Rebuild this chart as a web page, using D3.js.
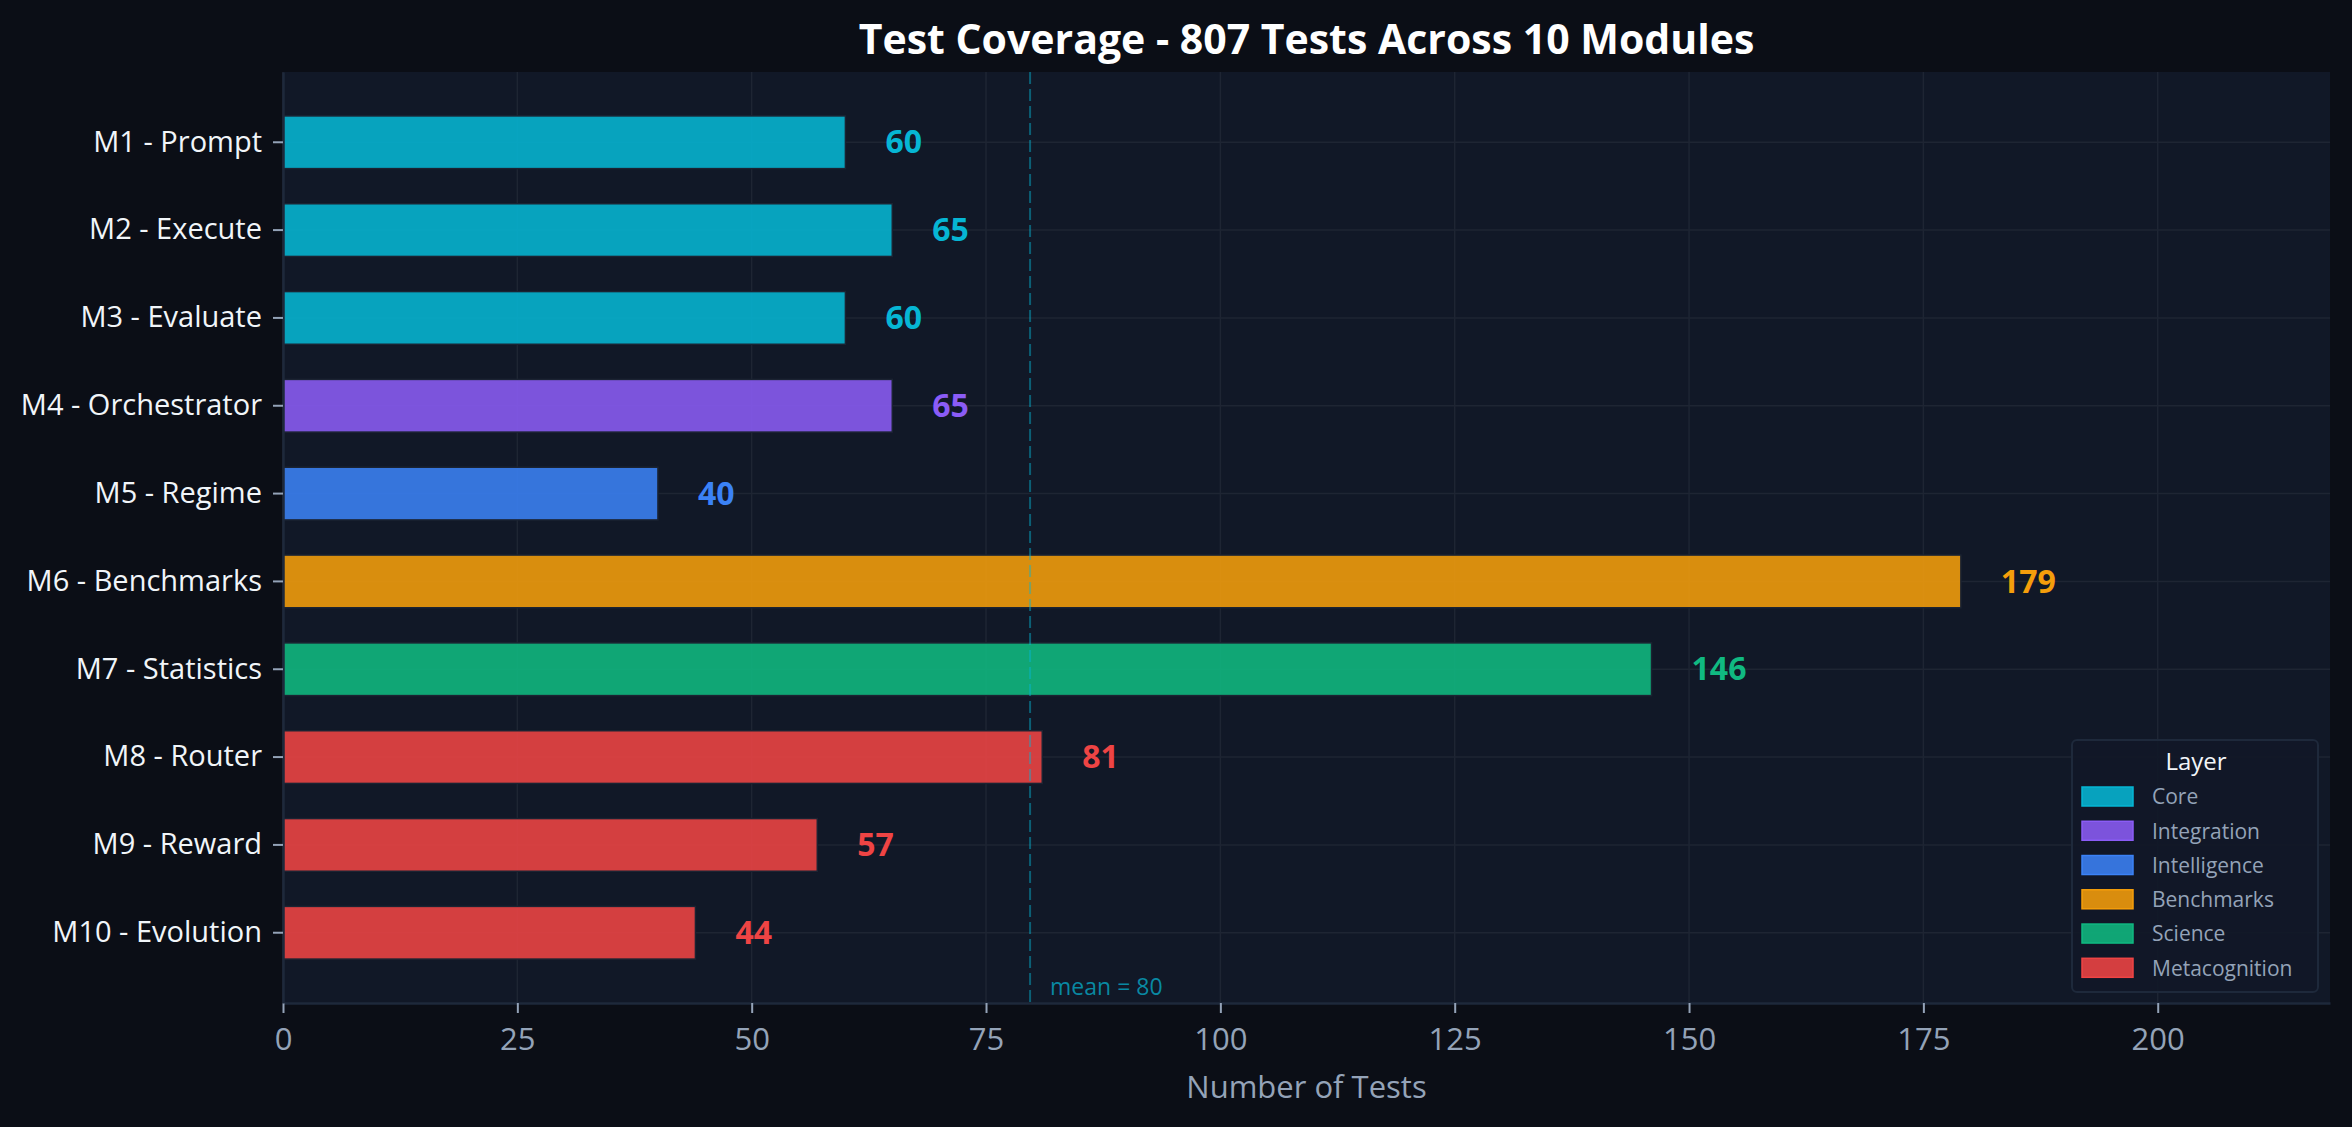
<!DOCTYPE html>
<html lang="en">
<head>
    <meta charset="UTF-8">
    <title>Test Coverage</title>
    <script src="https://d3js.org/d3.v7.min.js"></script>
    <style>
        body { margin: 0; background: #0b0e16; }
        svg text { font-family: "Open Sans", "Noto Sans", sans-serif; }
    </style>
</head>
<body>
<svg id="chart" width="2352" height="1127"></svg>
<script>
    // data
    const modules = ["M1 - Prompt", "M2 - Execute", "M3 - Evaluate", "M4 - Orchestrator", "M5 - Regime",
        "M6 - Benchmarks", "M7 - Statistics", "M8 - Router", "M9 - Reward", "M10 - Evolution"];
    const tests = [60, 65, 60, 65, 40, 179, 146, 81, 57, 44];
    const layers = ["Core", "Core", "Core", "Integration", "Intelligence",
        "Benchmarks", "Science", "Metacognition", "Metacognition", "Metacognition"];
    const layerNames = ["Core", "Integration", "Intelligence", "Benchmarks", "Science", "Metacognition"];
    const xTicks = [0, 25, 50, 75, 100, 125, 150, 175, 200];

    const layerColor = {
        Core: "#06b6d4", Integration: "#8b5cf6", Intelligence: "#3b82f6",
        Benchmarks: "#f59e0b", Science: "#10b981", Metacognition: "#ef4444"
    };

    const x0 = 283, x1 = 2330, y0 = 72, y1 = 1003;
    const svg = d3.select("#chart");

    svg.append("rect").attr("width", 2352).attr("height", 1127).attr("fill", "#0b0e16");
    svg.append("rect").attr("x", x0).attr("y", y0).attr("width", x1 - x0).attr("height", y1 - y0)
        .attr("fill", "#111827");

    let x = d3.scaleLinear()
        .domain([0, d3.max(tests) * 1.22])
        .range([x0, x1]);

    let y = d3.scaleBand()
        .domain(modules)
        .range([y0, y1])
        .paddingInner(0.4)
        .paddingOuter(0.5);

    // grid
    svg.append("g").selectAll("line")
        .data(xTicks)
        .enter().append("line")
        .attr("x1", d => x(d)).attr("x2", d => x(d))
        .attr("y1", y0).attr("y2", y1)
        .attr("stroke", "#1e2533").attr("stroke-width", 1.5);
    svg.append("g").selectAll("line")
        .data(modules)
        .enter().append("line")
        .attr("x1", x0).attr("x2", x1)
        .attr("y1", d => y(d) + y.bandwidth() / 2).attr("y2", d => y(d) + y.bandwidth() / 2)
        .attr("stroke", "#1e2533").attr("stroke-width", 1.5);

    // bars
    svg.append("g").selectAll("rect")
        .data(tests)
        .enter().append("rect")
        .attr("x", x(0))
        .attr("y", (d, i) => y(modules[i]))
        .attr("width", d => x(d) - x(0))
        .attr("height", y.bandwidth())
        .attr("fill", (d, i) => layerColor[layers[i]])
        .attr("fill-opacity", 0.88)
        .attr("stroke", "#1b2332")
        .attr("stroke-width", 1.5);

    // value labels
    svg.append("g").selectAll("text")
        .data(tests)
        .enter().append("text")
        .attr("x", d => x(d) + 40)
        .attr("y", (d, i) => y(modules[i]) + y.bandwidth() / 2)
        .attr("dy", "0.35em")
        .attr("fill", (d, i) => layerColor[layers[i]])
        .attr("font-size", 32)
        .attr("font-weight", "bold")
        .text(d => d);

    // mean line
    const mean = d3.mean(tests);
    svg.append("line")
        .attr("x1", x(mean)).attr("x2", x(mean))
        .attr("y1", y0).attr("y2", y1)
        .attr("stroke", "#06b6d4").attr("stroke-opacity", 0.45)
        .attr("stroke-width", 2).attr("stroke-dasharray", "12,5");
    svg.append("text")
        .attr("x", x(mean) + 20)
        .attr("y", y1 - 8)
        .attr("fill", "#06b6d4").attr("fill-opacity", 0.72)
        .attr("font-size", 23)
        .text("mean = " + Math.round(mean));

    // axes
    let xAxis = svg.append("g")
        .attr("transform", `translate(0, ${y1})`)
        .call(d3.axisBottom(x).tickValues(xTicks).tickSize(10).tickSizeOuter(0).tickPadding(15));
    xAxis.select(".domain").attr("stroke", "#1e293b").attr("stroke-width", 2.5);
    xAxis.selectAll(".tick line").attr("stroke", "#94a3b8").attr("stroke-width", 2);
    xAxis.selectAll("text").attr("fill", "#94a3b8").attr("font-size", 31)
        .style("font-family", "'Open Sans', sans-serif");

    let yAxis = svg.append("g")
        .attr("transform", `translate(${x0}, 0)`)
        .call(d3.axisLeft(y).tickSize(10).tickSizeOuter(0).tickPadding(11));
    yAxis.select(".domain").attr("stroke", "#1e293b").attr("stroke-width", 2.5);
    yAxis.selectAll(".tick line").attr("stroke", "#94a3b8").attr("stroke-width", 2);
    yAxis.selectAll("text").attr("fill", "#f1f5f9").attr("font-size", 29)
        .style("font-family", "'Open Sans', sans-serif");

    svg.append("text")
        .attr("x", (x0 + x1) / 2)
        .attr("y", 1098)
        .attr("text-anchor", "middle")
        .attr("fill", "#94a3b8")
        .attr("font-size", 31)
        .text("Number of Tests");

    svg.append("text")
        .attr("x", (x0 + x1) / 2)
        .attr("y", 54)
        .attr("text-anchor", "middle")
        .attr("fill", "#ffffff")
        .attr("font-size", 41)
        .attr("font-weight", "bold")
        .text("Test Coverage - 807 Tests Across 10 Modules");

    // legend
    const legW = 246, legH = 252, rowH = 34.26;
    const lx = x1 - 12 - legW, ly = y1 - 11 - legH;
    let legend = svg.append("g").attr("transform", `translate(${lx}, ${ly})`);
    legend.append("rect")
        .attr("width", legW).attr("height", legH).attr("rx", 5)
        .attr("fill", "#111827").attr("fill-opacity", 0.92)
        .attr("stroke", "#1e293b").attr("stroke-width", 2);
    legend.append("text")
        .attr("x", legW / 2 + 1).attr("y", 30)
        .attr("text-anchor", "middle")
        .attr("fill", "#f1f5f9").attr("font-size", 24)
        .text("Layer");
    let rows = legend.selectAll(".row")
        .data(layerNames)
        .enter().append("g")
        .attr("transform", (d, i) => `translate(0, ${57 + i * rowH})`);
    rows.append("rect")
        .attr("x", 10).attr("y", -10).attr("width", 51).attr("height", 19)
        .attr("fill", d => layerColor[d]).attr("fill-opacity", 0.88)
        .attr("stroke", d => layerColor[d]).attr("stroke-width", 1.5);
    rows.append("text")
        .attr("x", 80).attr("dy", "0.35em")
        .attr("fill", "#94a3b8").attr("font-size", 21)
        .text(d => d);
</script>
</body>
</html>
